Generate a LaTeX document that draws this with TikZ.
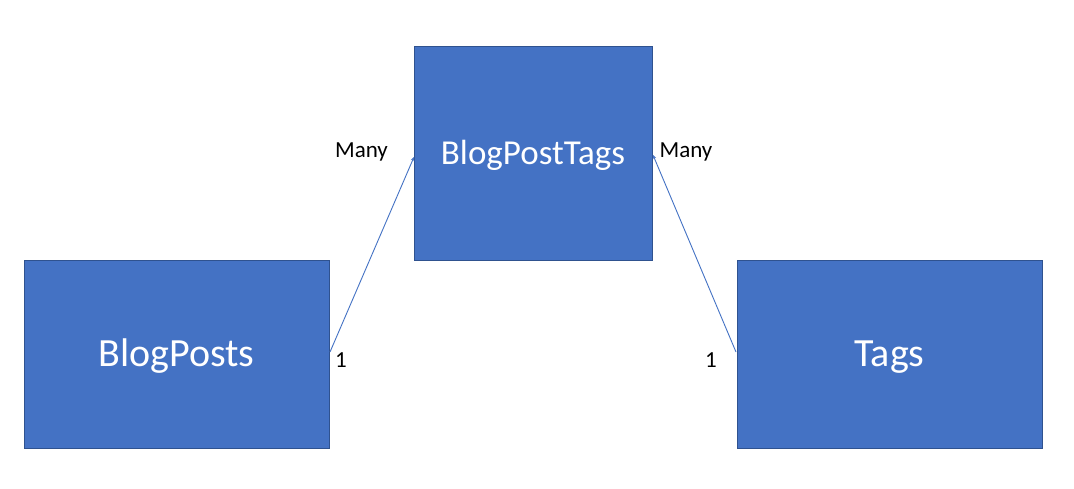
\documentclass[tikz,border=0pt]{standalone}
\usepackage{fontspec}
\setmainfont{Carlito}
\usetikzlibrary{arrows.meta}
\definecolor{boxfill}{HTML}{4472C4}
\definecolor{boxline}{HTML}{2F528F}
\begin{document}
\begin{tikzpicture}[x=1pt,y=-1pt,
  entity/.style={draw=boxline,line width=0.8pt,fill=boxfill,text=white,inner sep=0pt,text depth=0pt},
  bigent/.style={entity,font=\fontsize{40}{48}\selectfont,text height=25pt,minimum width=305pt,minimum height=188pt},
  rel/.style={draw=boxfill,line width=0.9pt,-{Stealth[length=4pt,width=3.5pt]}},
  card/.style={font=\fontsize{23}{28}\selectfont,text=black,inner sep=0pt,anchor=base}]
\useasboundingbox (0,0) rectangle (1074,488);
\fill[white] (0,0) rectangle (1074,488);
\node[entity,font=\fontsize{35}{42}\selectfont,text height=22.5pt,minimum width=238pt,minimum height=214pt] (bpt) at (533,153) {BlogPostTags};
\node[bigent] (bp) at (176.5,354) {BlogPosts};
\node[bigent] (tg) at (889.5,354) {Tags};
\coordinate (bptL) at (414,157);
\coordinate (bptR) at (653,155);
\coordinate (bpE) at (330,352);
\coordinate (tgW) at (736,352);
\draw[rel] (bpE) -- (bptL);
\draw[rel] (tgW) -- (bptR);
\node[card] (m1) at (361.5,157) {Many};
\node[card] (m2) at (686,157) {Many};
\node[card] (o1) at (341,367) {1};
\node[card] (o2) at (711,367) {1};
\end{tikzpicture}
\end{document}
